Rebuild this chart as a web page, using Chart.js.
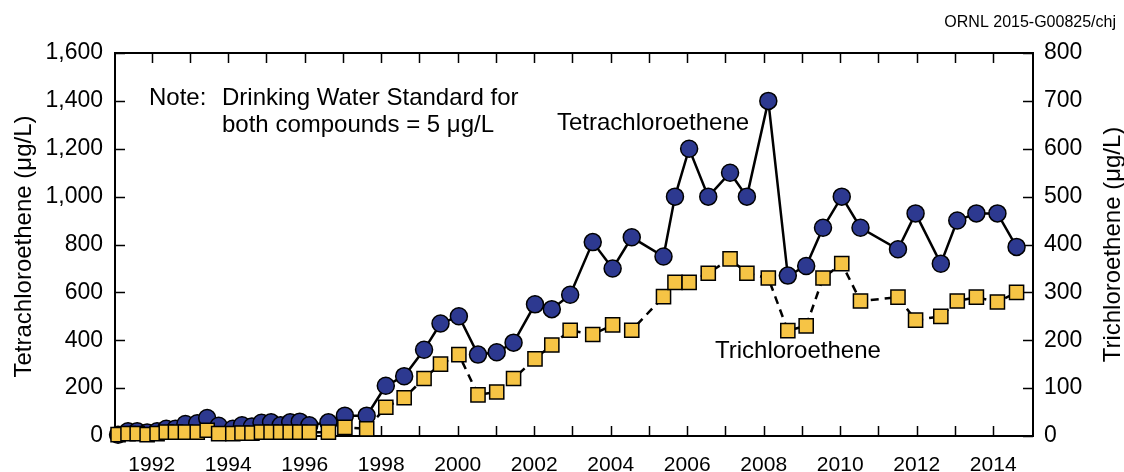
<!DOCTYPE html>
<html>
<head>
<meta charset="utf-8">
<script src="https://cdn.jsdelivr.net/npm/chart.js"></script>
<style>
  html, body { margin: 0; padding: 0; background: #fff; }
  #wrap { width: 1124px; height: 472px; }
</style>
</head>
<body>
<div id="wrap"><canvas id="myChart" width="1124" height="472"></canvas></div>
<script>
// sample dates (decimal years), shared by both compounds
const sampleYears = [
  1991.12, 1991.38, 1991.62, 1991.88, 1992.14, 1992.38, 1992.62, 1992.88, 1993.19, 1993.45,
  1993.75, 1994.12, 1994.36, 1994.62, 1994.87, 1995.12, 1995.37, 1995.62, 1995.87, 1996.12,
  1996.62, 1997.05, 1997.62, 1998.12, 1998.60, 1999.12, 1999.55, 2000.03, 2000.53, 2001.02,
  2001.46, 2002.02, 2002.46, 2002.94, 2003.53, 2004.05, 2004.55, 2005.38, 2005.68, 2006.05,
  2006.55, 2007.12, 2007.56, 2008.12, 2008.63, 2009.11, 2009.55, 2010.04, 2010.53, 2011.51,
  2011.97, 2012.63, 2013.06, 2013.56, 2014.11, 2014.61
];
// Tetrachloroethene, ug/L (left axis)
const tetraValues = [
  5, 20, 20, 15, 20, 30, 30, 50, 53, 75,
  43, 30, 45, 40, 55, 57, 45, 57, 60, 45,
  57, 85, 85, 210, 250, 360, 470, 500, 340, 350,
  390, 550, 530, 590, 810, 700, 830, 750, 1000, 1200,
  1000, 1100, 1000, 1400, 670, 710, 870, 1000, 870, 780,
  930, 720, 900, 930, 930, 790
];
// Trichloroethene, ug/L (right axis)
const trichloroValues = [
  3, 5, 5, 3, 5, 8, 8, 8, 8, 12,
  5, 5, 6, 6, 8, 8, 8, 8, 8, 8,
  8, 18, 15, 60, 80, 120, 150, 170, 86, 92,
  120, 161, 190, 221, 212, 232, 221, 291, 321, 321,
  340, 370, 340, 330, 220, 230, 330, 360, 282, 290,
  242, 250, 282, 290, 280, 300
];
// x ticks every year, labels every other year
const tickYears = [1992, 1993, 1994, 1995, 1996, 1997, 1998, 1999, 2000, 2001, 2002, 2003,
  2004, 2005, 2006, 2007, 2008, 2009, 2010, 2011, 2012, 2013, 2014];
const labelYears = [1992, 1994, 1996, 1998, 2000, 2002, 2004, 2006, 2008, 2010, 2012, 2014];

const FONT = '"Liberation Sans", Arial, Helvetica, sans-serif';
Chart.defaults.font.family = FONT;
Chart.defaults.color = '#000';

const navy = '#2D3990';
const gold = '#F6C445';

// inward tick marks + top border
const inTicks = {
  id: 'inTicks',
  beforeDatasetsDraw(chart) {
    const { ctx, chartArea: a, scales } = chart;
    const len = 10;
    ctx.save();
    ctx.strokeStyle = '#000';
    ctx.lineWidth = 1.5;
    ctx.beginPath();
    scales.x.ticks.forEach(t => {
      const px = Math.round(scales.x.getPixelForValue(t.value)) + 0.5;
      ctx.moveTo(px, a.bottom); ctx.lineTo(px, a.bottom - len);
      ctx.moveTo(px, a.top); ctx.lineTo(px, a.top + len);
    });
    scales.y.ticks.forEach(t => {
      const py = Math.round(scales.y.getPixelForValue(t.value)) + 0.5;
      ctx.moveTo(a.left, py); ctx.lineTo(a.left + len, py);
    });
    scales.y2.ticks.forEach(t => {
      const py = Math.round(scales.y2.getPixelForValue(t.value)) + 0.5;
      ctx.moveTo(a.right, py); ctx.lineTo(a.right - len, py);
    });
    ctx.stroke();
    ctx.lineWidth = 2;
    ctx.beginPath();
    ctx.moveTo(a.left, a.top); ctx.lineTo(a.right, a.top);
    ctx.stroke();
    ctx.restore();
  }
};

// axis titles and notes
const notes = {
  id: 'notes',
  afterDraw(chart) {
    const { ctx, chartArea: a } = chart;
    const midY = (a.top + a.bottom) / 2;
    ctx.save();
    ctx.fillStyle = '#000';
    ctx.font = '24px ' + FONT;
    ctx.textAlign = 'center';
    ctx.textBaseline = 'alphabetic';

    ctx.save();
    ctx.translate(31, midY + 2);
    ctx.rotate(-Math.PI / 2);
    ctx.fillText('Tetrachloroethene (\u03bcg/L)', 0, 0);
    ctx.restore();

    ctx.save();
    ctx.translate(1120, midY);
    ctx.rotate(-Math.PI / 2);
    ctx.fillText('Trichloroethene (\u03bcg/L)', 0, 0);
    ctx.restore();

    ctx.textAlign = 'left';
    ctx.fillText('Note:', 149, 105);
    ctx.fillText('Drinking Water Standard for', 222, 105);
    ctx.fillText('both compounds = 5 \u03bcg/L', 222, 132);
    ctx.fillText('Tetrachloroethene', 557, 130);
    ctx.fillText('Trichloroethene', 715, 358);

    ctx.font = '16px ' + FONT;
    ctx.textAlign = 'right';
    ctx.fillText('ORNL 2015-G00825/chj', 1116, 27);
    ctx.restore();
  }
};

const ctx = document.getElementById('myChart').getContext('2d');
const chart = new Chart(ctx, {
  type: 'line',
  data: {
    datasets: [
      {
        label: 'Trichloroethene',
        data: sampleYears.map((x, i) => ({ x: x, y: trichloroValues[i] })),
        yAxisID: 'y2',
        order: 0,
        borderColor: '#000',
        borderWidth: 2.5,
        borderDash: [8, 6],
        pointStyle: 'rect',
        pointRadius: 10,
        pointBackgroundColor: gold,
        pointBorderColor: '#000',
        pointBorderWidth: 1.5,
        tension: 0,
        clip: false
      },
      {
        label: 'Tetrachloroethene',
        data: sampleYears.map((x, i) => ({ x: x, y: tetraValues[i] })),
        yAxisID: 'y',
        order: 1,
        borderColor: '#000',
        borderWidth: 2.5,
        pointStyle: 'circle',
        pointRadius: 8.5,
        pointBackgroundColor: navy,
        pointBorderColor: '#000',
        pointBorderWidth: 1.5,
        tension: 0,
        clip: false
      }
    ]
  },
  options: {
    responsive: false,
    animation: false,
    devicePixelRatio: 1,
    layout: { padding: { top: 53, left: 0, right: 0, bottom: 0 } },
    plugins: {
      legend: { display: false },
      tooltip: { enabled: false }
    },
    scales: {
      x: {
        type: 'linear',
        position: 'bottom',
        min: 1991.04,
        max: 2015.04,
        afterBuildTicks: (scale) => { scale.ticks = tickYears.map(v => ({ value: v })); },
        afterFit: (scale) => { scale.height = 36; },
        grid: { display: false, drawTicks: false },
        border: { display: true, color: '#000', width: 2 },
        ticks: {
          autoSkip: false,
          maxRotation: 0,
          padding: 17,
          font: { size: 21 },
          callback: (v) => labelYears.includes(v) ? String(v) : ''
        }
      },
      y: {
        position: 'left',
        min: 0,
        max: 1600,
        afterFit: (scale) => { scale.width = 115; },
        grid: { display: false, drawTicks: false },
        border: { display: true, color: '#000', width: 2 },
        ticks: {
          stepSize: 200,
          padding: 12,
          font: { size: 23 },
          callback: (v) => v.toLocaleString('en-US')
        }
      },
      y2: {
        position: 'right',
        min: 0,
        max: 800,
        afterFit: (scale) => { scale.width = 91; },
        grid: { display: false, drawTicks: false },
        border: { display: true, color: '#000', width: 2 },
        ticks: {
          stepSize: 100,
          padding: 11,
          font: { size: 23 }
        }
      }
    }
  },
  plugins: [inTicks, notes]
});
</script>
</body>
</html>
